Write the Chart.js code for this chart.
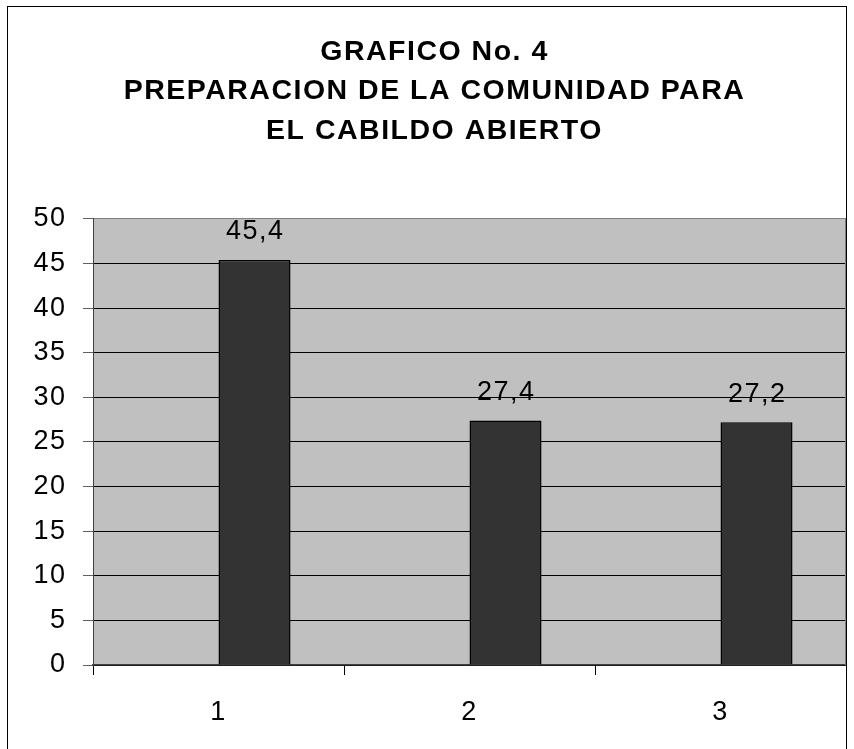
<!DOCTYPE html>
<html>
<head>
<meta charset="utf-8">
<script src="https://cdn.jsdelivr.net/npm/chart.js@4/dist/chart.umd.min.js"></script>
<style>
    html, body { margin: 0; padding: 0; background: #fff; overflow: hidden; }
    #wrap { position: relative; width: 854px; height: 749px; }
    #frame {
        position: absolute; left: 7px; top: 6px; width: 838px; height: 800px;
        border: 1px solid #000; pointer-events: none;
    }
</style>
</head>
<body>
<div id="wrap">
    <canvas id="chart1" width="854" height="749"></canvas>
    <div id="frame"></div>
</div>
<script>
const titleLines = [
    "GRAFICO No. 4",
    "PREPARACION DE LA COMUNIDAD PARA",
    "EL CABILDO ABIERTO",
];

const categories = ["1", "2", "3"];

// the original sheet had an empty first series, so bars sit right of centre
const blankSeries = [null, null, null];
const values = [45.4, 27.4, 27.2];

const yMin = 0;
const yMax = 50;
const yStep = 5;

Chart.defaults.font.family = "'Liberation Sans', Arial, sans-serif";
Chart.defaults.color = "#000";

// the original text is rendered a bit wide, fake it with letter spacing
const wideText = {
    id: 'wideText',
    beforeUpdate(chart) { chart.ctx.letterSpacing = '1.5px'; },
    beforeDraw(chart) { chart.ctx.letterSpacing = '1.5px'; }
};

const plotBackground = {
    id: 'plotBackground',
    beforeDraw(chart) {
        const { ctx, chartArea: a } = chart;
        ctx.save();
        ctx.fillStyle = '#c0c0c0';
        ctx.fillRect(a.left, a.top, a.right - a.left, a.bottom - a.top);
        ctx.restore();
    },
    afterDraw(chart) {
        const { ctx, chartArea: a } = chart;
        ctx.save();
        ctx.strokeStyle = '#808080';
        ctx.lineWidth = 1;
        ctx.beginPath();
        ctx.moveTo(a.right - 0.5, a.top);
        ctx.lineTo(a.right - 0.5, a.bottom);
        ctx.stroke();
        ctx.restore();
    }
};

const valueLabels = {
    id: 'valueLabels',
    afterDatasetsDraw(chart) {
        const { ctx } = chart;
        const meta = chart.getDatasetMeta(1);
        ctx.save();
        ctx.font = "27px 'Liberation Sans', Arial, sans-serif";
        ctx.fillStyle = '#000';
        ctx.textAlign = 'center';
        ctx.textBaseline = 'middle';
        meta.data.forEach((bar, i) => {
            const v = chart.data.datasets[1].data[i];
            ctx.fillText(String(v).replace('.', ','), bar.x + 0.75, bar.y - 28);
        });
        ctx.restore();
    }
};

const ctx = document.getElementById("chart1").getContext("2d");

const chartdata = {
    labels: categories,
    datasets: [{
        data: blankSeries,
        backgroundColor: '#333333',
        borderColor: '#000',
        borderWidth: 1.5,
    }, {
        data: values,
        backgroundColor: '#333333',
        borderColor: '#000',
        borderWidth: 1.5,
    }],
};

const config = {
    type: 'bar',
    data: chartdata,
    options: {
        responsive: false,
        animation: false,
        categoryPercentage: 0.574,
        barPercentage: 1,
        layout: {
            padding: { left: 23, right: 8, top: 0, bottom: 0 }
        },
        scales: {
            y: {
                min: yMin,
                max: yMax,
                afterFit(scale) { scale.width = 70; },
                ticks: {
                    stepSize: yStep,
                    padding: 16.5,
                    font: { size: 27 },
                    color: '#000',
                },
                grid: {
                    color: (c) => c.tick && c.tick.value === yMax ? '#808080' : '#000',
                    tickColor: '#606060',
                    tickLength: 10,
                    lineWidth: 1,
                },
                border: { color: '#404040', width: 1 },
            },
            x: {
                afterFit(scale) { scale.height = 84; },
                ticks: {
                    padding: 21,
                    font: { size: 27 },
                    color: '#000',
                },
                grid: {
                    offset: true,
                    drawOnChartArea: false,
                    tickColor: '#000',
                    tickLength: 10,
                },
                border: { color: '#404040', width: 1.5 },
            }
        },
        plugins: {
            legend: { display: false },
            tooltip: { enabled: false },
            title: {
                display: true,
                text: titleLines,
                color: '#000',
                font: { size: 28.5, weight: 'bold', lineHeight: 1.39 },
                padding: { top: 32, bottom: 68 },
            },
        }
    },
    plugins: [wideText, plotBackground, valueLabels]
};

const newChart = new Chart(ctx, config);
</script>
</body>
</html>
